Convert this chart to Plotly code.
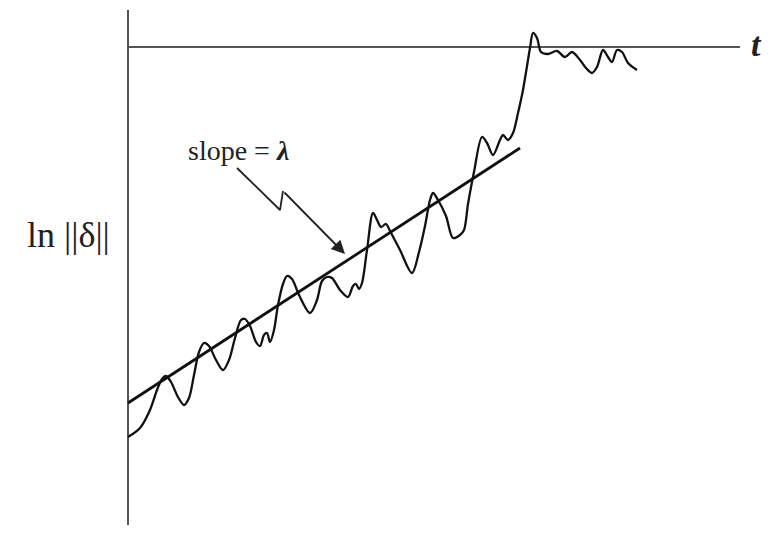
import plotly.graph_objects as go

# Data (t, ln||delta||)
t = [0, 12, 22, 29, 34, 38, 43, 50, 56, 61, 66, 71, 76, 81, 88, 95, 101, 107, 113, 117,
     122, 128, 132, 136, 139, 142, 146, 150, 155, 159, 164, 171, 182, 189, 194, 199, 204,
     212, 220, 225, 228, 231, 234, 239, 245, 249, 253, 258, 262, 272, 284, 291, 297, 302,
     305, 310, 318, 325, 332, 336, 340, 346, 354, 359, 365, 372, 375, 380, 385, 390, 395,
     402, 405, 409, 413, 420, 429, 437, 444, 452, 458, 464, 469, 475, 480, 484, 489, 494,
     500, 509]
ln_delta = [-390, -381, -363, -343, -332, -329, -335, -350, -358, -351, -328, -305, -296,
            -299, -313, -323, -313, -291, -273, -272, -279, -295, -299, -288, -286, -295,
            -283, -258, -237, -229, -232, -248, -266, -253, -234, -230, -231, -243, -250,
            -239, -237, -242, -236, -203, -166, -173, -180, -177, -184, -203, -226, -205,
            -179, -153, -146, -153, -169, -191, -188, -183, -157, -125, -90, -96, -108, -93,
            -88, -93, -86, -66, -43, -1, 14, 9, -5, -7, -4, -10, -5, -13, -21, -26, -20, -3,
            -10, -15, -3, -5, -16, -23]

slope_t = [0, 392]
slope_y = [-356, -101]

pointer_t = [109, 152, 155]
pointer_y = [-121, -163, -144]
arrow_tip = (217, -207)

axis_v_t = [0, 0]
axis_v_y = [37, -478]
axis_h_t = [0, 612]
axis_h_y = [0, 0]

fig = go.Figure()
axis_col = "#555555"
fig.add_trace(go.Scatter(x=axis_v_t, y=axis_v_y, mode="lines",
                         line=dict(color=axis_col, width=2), hoverinfo="skip"))
fig.add_trace(go.Scatter(x=axis_h_t, y=axis_h_y, mode="lines",
                         line=dict(color=axis_col, width=2), hoverinfo="skip"))
fig.add_trace(go.Scatter(x=t, y=ln_delta, mode="lines",
                         line=dict(color="#111", width=2.3, shape="spline", smoothing=0.9),
                         hoverinfo="skip"))
fig.add_trace(go.Scatter(x=slope_t, y=slope_y, mode="lines",
                         line=dict(color="#111", width=2.8), hoverinfo="skip"))
fig.add_trace(go.Scatter(x=pointer_t, y=pointer_y, mode="lines",
                         line=dict(color="#222", width=1.8), hoverinfo="skip"))

fig.add_annotation(x=arrow_tip[0], y=arrow_tip[1], ax=pointer_t[-1], ay=pointer_y[-1],
                   xref="x", yref="y", axref="x", ayref="y", text="",
                   showarrow=True, arrowhead=2, arrowsize=1.5, arrowwidth=1.8,
                   arrowcolor="#222")

serif = "Liberation Serif, Times New Roman, serif"
fig.add_annotation(x=110, y=-103, xref="x", yref="y", text="slope = <i><b>λ</b></i>",
                   showarrow=False, font=dict(family=serif, size=28, color="#222"))
fig.add_annotation(x=628, y=3, xref="x", yref="y", text="<i><b>t</b></i>",
                   showarrow=False, font=dict(family=serif, size=34, color="#222"))
fig.add_annotation(x=-60, y=-188, xref="x", yref="y", text="ln ||δ||",
                   showarrow=False, font=dict(family=serif, size=36, color="#222"))

# page body has an 8px margin, so ranges are offset to keep the axes where the reference has them
fig.update_layout(
    width=777, height=541, margin=dict(l=0, r=0, t=0, b=0),
    paper_bgcolor="white", plot_bgcolor="white", showlegend=False,
    xaxis=dict(range=[-120, 657], visible=False, fixedrange=True),
    yaxis=dict(range=[-502, 39], visible=False, fixedrange=True),
)
fig.write_html("out.html")
